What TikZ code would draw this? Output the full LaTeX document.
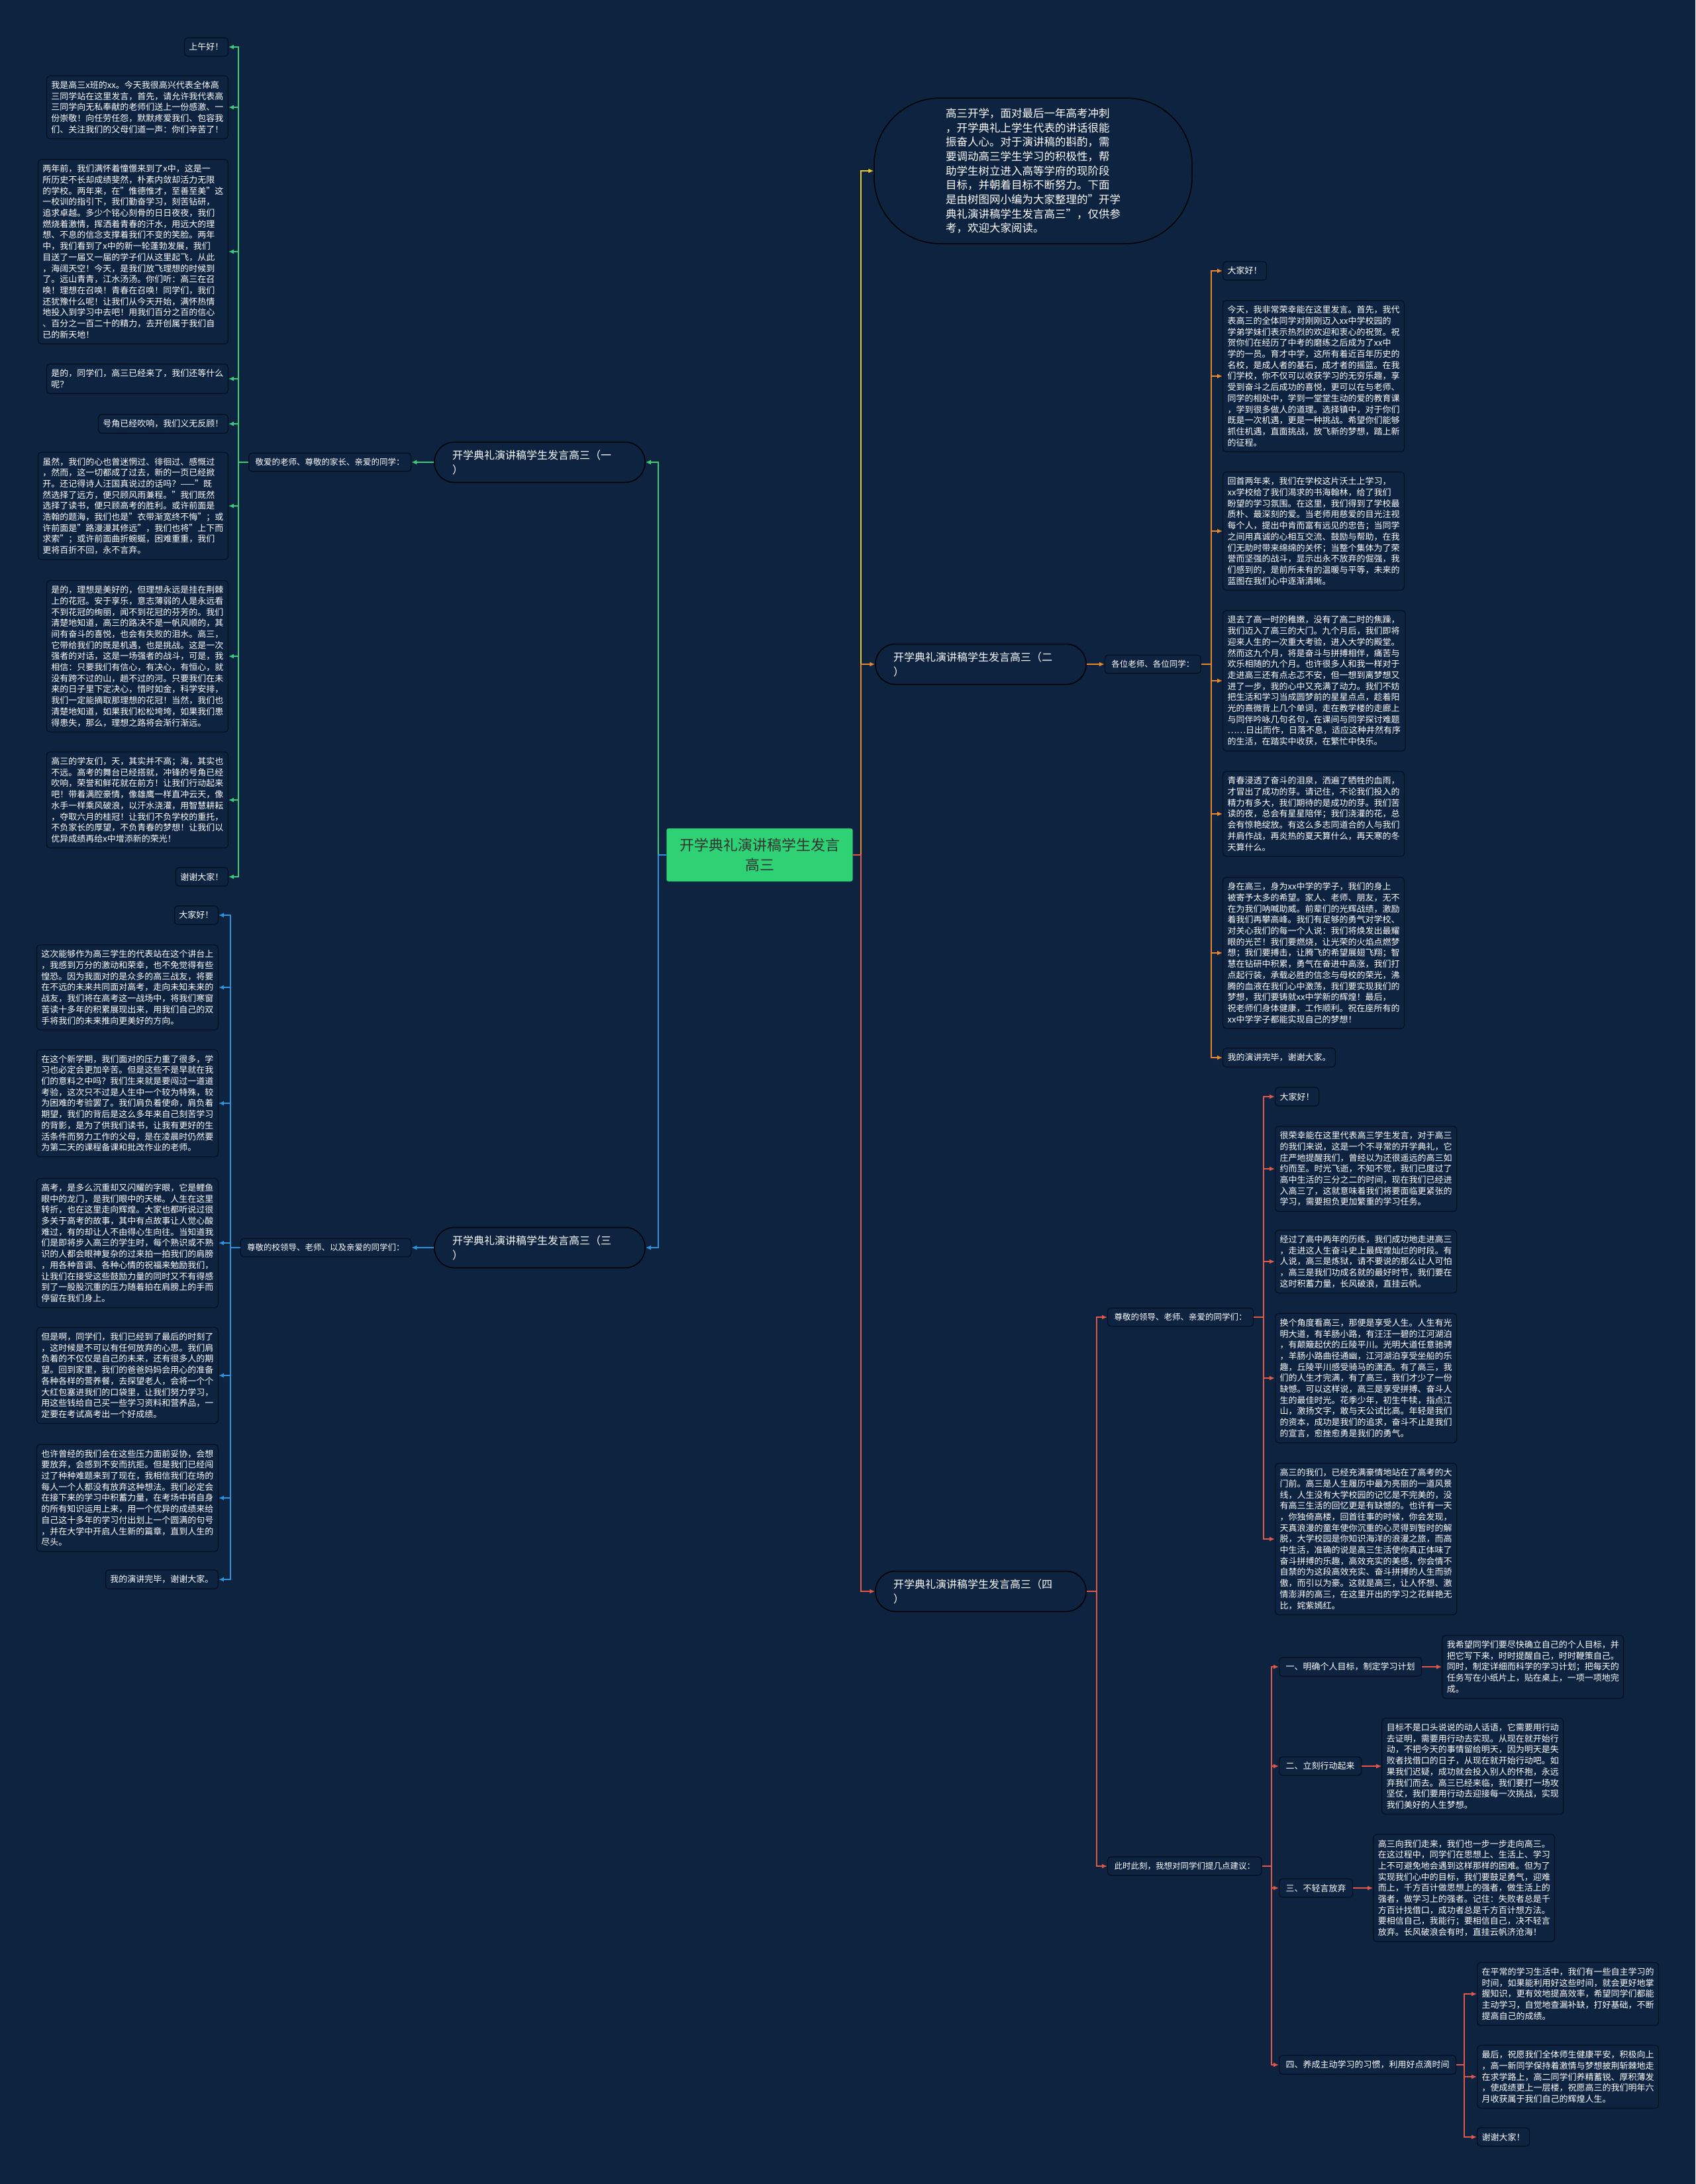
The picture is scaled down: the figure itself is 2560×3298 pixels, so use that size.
\documentclass[tikz,border=0pt]{standalone}
\usepackage{fontspec}
\setmainfont{Noto Sans CJK SC}
\usepackage{tikz}
\usetikzlibrary{positioning, arrows.meta}
\definecolor{bgcol}{RGB}{13,35,63}
\definecolor{boxline}{RGB}{4,14,30}
\definecolor{rootcol}{RGB}{46,210,116}
\definecolor{gcol}{RGB}{58,204,125}
\definecolor{ocol}{RGB}{232,136,44}
\definecolor{ycol}{RGB}{232,200,30}
\definecolor{bcol}{RGB}{44,146,218}
\definecolor{rcol}{RGB}{224,88,74}
\tikzset{
  leaf/.style={draw=boxline, fill=bgcol, rounded corners=5pt, line width=1.2pt,
    text=white, align=left, inner xsep=7pt, inner ysep=8pt,
    font=\fontsize{13}{16.7}\selectfont},
  lbl/.style={leaf, inner xsep=10pt, font=\fontsize{12.5}{15}\selectfont},
  point/.style={leaf, inner xsep=10pt},
  branch/.style={draw=black, fill=bgcol, rounded corners=30pt, line width=1.5pt,
    text=white, align=left, text width=264pt, inner xsep=27pt,
    minimum height=61pt, font=\fontsize{16}{22}\selectfont},
  intro/.style={draw=black, fill=bgcol, rounded corners=100pt, line width=1.5pt,
    text=white, align=left, minimum width=480pt, minimum height=220pt,
    font=\fontsize{16.5}{21.7}\selectfont},
  root/.style={fill=rootcol, draw=rootcol!75!black, rounded corners=3pt,
    minimum width=281pt, minimum height=80pt, align=center, text=black!80,
    font=\fontsize{22}{30}\selectfont},
  conn/.style={line width=2pt, -{Latex[length=8pt,width=7pt]}},
}
\begin{document}
\begin{tikzpicture}[x=1pt,y=-1pt]
\useasboundingbox (0,0) rectangle (2560,3298);
\fill[bgcol] (0,0) rectangle (2560,3298);

\node[root] (main) at (1147,1291) {开学典礼演讲稿学生发言\\高三};
\node[intro] (intro) at (1560,258) {高三开学，面对最后一年高考冲刺\\，开学典礼上学生代表的讲话很能\\振奋人心。对于演讲稿的斟酌，需\\要调动高三学生学习的积极性，帮\\助学生树立进入高等学府的现阶段\\目标，并朝着目标不断努力。下面\\是由树图网小编为大家整理的"开学\\典礼演讲稿学生发言高三"，仅供参\\考，欢迎大家阅读。};
\node[branch] (t1) at (815,698) {开学典礼演讲稿学生发言高三（一\\）};
\node[branch] (t2) at (1481,1003) {开学典礼演讲稿学生发言高三（二\\）};
\node[branch] (t3) at (815,1884) {开学典礼演讲稿学生发言高三（三\\）};
\node[branch] (t4) at (1481,2403) {开学典礼演讲稿学生发言高三（四\\）};

\node[lbl, left=34pt of t1] (h1) {敬爱的老师、尊敬的家长、亲爱的同学：};
\node[lbl, right=27pt of t2] (h2) {各位老师、各位同学：};
\node[lbl, left=34pt of t3] (h3) {尊敬的校领导、老师、以及亲爱的同学们：};
\node[lbl, anchor=west] (h4a) at (1672,1989) {尊敬的领导、老师、亲爱的同学们：};
\node[lbl, anchor=west] (h4b) at (1672,2818) {此时此刻，我想对同学们提几点建议：};

% (一)
\node[leaf, anchor=east] (a1) at (345,71) {上午好！};
\node[leaf, anchor=east] (a2) at (345,162) {我是高三x班的xx。今天我很高兴代表全体高\\三同学站在这里发言，首先，请允许我代表高\\三同学向无私奉献的老师们送上一份感激、一\\份崇敬！向任劳任怨，默默疼爱我们、包容我\\们、关注我们的父母们道一声：你们辛苦了！};
\node[leaf, anchor=east] (a3) at (345,380) {两年前，我们满怀着憧憬来到了x中，这是一\\所历史不长却成绩斐然，朴素内敛却活力无限\\的学校。两年来，在"惟德惟才，至善至美"这\\一校训的指引下，我们勤奋学习，刻苦钻研，\\追求卓越。多少个铭心刻骨的日日夜夜，我们\\燃烧着激情，挥洒着青春的汗水，用远大的理\\想、不息的信念支撑着我们不变的笑脸。两年\\中，我们看到了x中的新一轮蓬勃发展，我们\\目送了一届又一届的学子们从这里起飞，从此\\，海阔天空！今天，是我们放飞理想的时候到\\了。远山青青，江水汤汤。你们听：高三在召\\唤！理想在召唤！青春在召唤！同学们，我们\\还犹豫什么呢！让我们从今天开始，满怀热情\\地投入到学习中去吧！用我们百分之百的信心\\、百分之一百二十的精力，去开创属于我们自\\已的新天地！};
\node[leaf, anchor=east] (a4) at (345,572) {是的，同学们，高三已经来了，我们还等什么\\呢？};
\node[leaf, anchor=east] (a5) at (345,640) {号角已经吹响，我们义无反顾！};
\node[leaf, anchor=east] (a6) at (345,764) {虽然，我们的心也曾迷惘过、徘徊过、感慨过\\，然而，这一切都成了过去，新的一页已经掀\\开。还记得诗人汪国真说过的话吗？——"既\\然选择了远方，便只顾风雨兼程。"我们既然\\选择了读书，便只顾高考的胜利。或许前面是\\浩翰的题海，我们也是"衣带渐宽终不悔"；或\\许前面是"路漫漫其修远"，我们也将"上下而\\求索"；或许前面曲折蜿蜒，困难重重，我们\\更将百折不回，永不言弃。};
\node[leaf, anchor=east] (a7) at (345,991) {是的，理想是美好的，但理想永远是挂在荆棘\\上的花冠。安于享乐，意志薄弱的人是永远看\\不到花冠的绚丽，闻不到花冠的芬芳的。我们\\清楚地知道，高三的路决不是一帆风顺的，其\\间有奋斗的喜悦，也会有失败的泪水。高三，\\它带给我们的既是机遇，也是挑战。这是一次\\强者的对话，这是一场强者的战斗，可是，我\\相信：只要我们有信心，有决心，有恒心，就\\没有跨不过的山，趟不过的河。只要我们在未\\来的日子里下定决心，惜时如金，科学安排，\\我们一定能摘取那理想的花冠！当然，我们也\\清楚地知道，如果我们松松垮垮，如果我们患\\得患失，那么，理想之路将会渐行渐远。};
\node[leaf, anchor=east] (a8) at (345,1208) {高三的学友们，天，其实并不高；海，其实也\\不远。高考的舞台已经搭就，冲锋的号角已经\\吹响，荣誉和鲜花就在前方！让我们行动起来\\吧！带着满腔豪情，像雄鹰一样直冲云天，像\\水手一样乘风破浪，以汗水浇灌，用智慧耕耘\\，夺取六月的桂冠！让我们不负学校的重托，\\不负家长的厚望，不负青春的梦想！让我们以\\优异成绩再给x中增添新的荣光！};
\node[leaf, anchor=east] (a9) at (345,1324) {谢谢大家！};

% (二)
\node[leaf, anchor=west] (b1) at (1846,409) {大家好！};
\node[leaf, anchor=west] (b2) at (1846,568) {今天，我非常荣幸能在这里发言。首先，我代\\表高三的全体同学对刚刚迈入xx中学校园的\\学弟学妹们表示热烈的欢迎和衷心的祝贺。祝\\贺你们在经历了中考的磨练之后成为了xx中\\学的一员。育才中学，这所有着近百年历史的\\名校，是成人者的基石，成才者的摇篮。在我\\们学校，你不仅可以收获学习的无穷乐趣，享\\受到奋斗之后成功的喜悦，更可以在与老师、\\同学的相处中，学到一堂堂生动的爱的教育课\\，学到很多做人的道理。选择镇中，对于你们\\既是一次机遇，更是一种挑战。希望你们能够\\抓住机遇，直面挑战，放飞新的梦想，踏上新\\的征程。};
\node[leaf, anchor=west] (b3) at (1846,802) {回首两年来，我们在学校这片沃土上学习，\\xx学校给了我们渴求的书海翰林，给了我们\\盼望的学习氛围。在这里，我们得到了学校最\\质朴、最深刻的爱。当老师用慈爱的目光注视\\每个人，提出中肯而富有远见的忠告；当同学\\之间用真诚的心相互交流、鼓励与帮助，在我\\们无助时带来绵绵的关怀；当整个集体为了荣\\誉而坚强的战斗，显示出永不放弃的倔强，我\\们感到的，是前所未有的温暖与平等，未来的\\蓝图在我们心中逐渐清晰。};
\node[leaf, anchor=west] (b4) at (1846,1028) {退去了高一时的稚嫩，没有了高二时的焦躁，\\我们迈入了高三的大门。九个月后，我们即将\\迎来人生的一次重大考验，进入大学的殿堂。\\然而这九个月，将是奋斗与拼搏相伴，痛苦与\\欢乐相随的九个月。也许很多人和我一样对于\\走进高三还有点忐忑不安，但一想到离梦想又\\进了一步，我的心中又充满了动力。我们不妨\\把生活和学习当成圆梦前的星星点点，趁着阳\\光的熹微背上几个单词，走在教学楼的走廊上\\与同伴吟咏几句名句，在课间与同学探讨难题\\……日出而作，日落不息，适应这种井然有序\\的生活，在踏实中收获，在繁忙中快乐。};
\node[leaf, anchor=west] (b5) at (1846,1229) {青春浸透了奋斗的泪泉，洒遍了牺牲的血雨，\\才冒出了成功的芽。请记住，不论我们投入的\\精力有多大，我们期待的是成功的芽。我们苦\\读的夜，总会有星星陪伴；我们浇灌的花，总\\会有惊艳绽放。有这么多志同道合的人与我们\\并肩作战，再炎热的夏天算什么，再天寒的冬\\天算什么。};
\node[leaf, anchor=west] (b6) at (1846,1439) {身在高三，身为xx中学的学子，我们的身上\\被寄予太多的希望。家人、老师、朋友，无不\\在为我们呐喊助威。前辈们的光辉战绩，激励\\着我们再攀高峰。我们有足够的勇气对学校、\\对关心我们的每一个人说：我们将焕发出最耀\\眼的光芒！我们要燃烧，让光荣的火焰点燃梦\\想；我们要搏击，让腾飞的希望展翅飞翔；智\\慧在钻研中积累，勇气在奋进中高涨，我们打\\点起行装，承载必胜的信念与母校的荣光，沸\\腾的血液在我们心中激荡，我们要实现我们的\\梦想，我们要铸就xx中学新的辉煌！最后，\\祝老师们身体健康，工作顺利。祝在座所有的\\xx中学学子都能实现自己的梦想！};
\node[leaf, anchor=west] (b7) at (1846,1597) {我的演讲完毕，谢谢大家。};

% (三)
\node[leaf, anchor=east] (c1) at (330,1382) {大家好！};
\node[leaf, anchor=east] (c2) at (330,1491) {这次能够作为高三学生的代表站在这个讲台上\\，我感到万分的激动和荣幸，也不免觉得有些\\惶恐。因为我面对的是众多的高三战友，将要\\在不远的未来共同面对高考，走向未知未来的\\战友，我们将在高考这一战场中，将我们寒窗\\苦读十多年的积累展现出来，用我们自己的双\\手将我们的未来推向更美好的方向。};
\node[leaf, anchor=east] (c3) at (330,1666) {在这个新学期，我们面对的压力重了很多，学\\习也必定会更加辛苦。但是这些不是早就在我\\们的意料之中吗？我们生来就是要闯过一道道\\考验，这次只不过是人生中一个较为特殊，较\\为困难的考验罢了。我们肩负着使命，肩负着\\期望，我们的背后是这么多年来自己刻苦学习\\的背影，是为了供我们读书，让我有更好的生\\活条件而努力工作的父母，是在凌晨时仍然要\\为第二天的课程备课和批改作业的老师。};
\node[leaf, anchor=east] (c4) at (330,1877) {高考，是多么沉重却又闪耀的字眼，它是鲤鱼\\眼中的龙门，是我们眼中的天梯。人生在这里\\转折，也在这里走向辉煌。大家也都听说过很\\多关于高考的故事，其中有点故事让人觉心酸\\难过，有的却让人不由得心生向往。当知道我\\们是即将步入高三的学生时，每个熟识或不熟\\识的人都会眼神复杂的过来拍一拍我们的肩膀\\，用各种音调、各种心情的祝福来勉励我们，\\让我们在接受这些鼓励力量的同时又不有得感\\到了一股股沉重的压力随着拍在肩膀上的手而\\停留在我们身上。};
\node[leaf, anchor=east] (c5) at (330,2077) {但是啊，同学们，我们已经到了最后的时刻了\\，这时候是不可以有任何放弃的心思。我们肩\\负着的不仅仅是自己的未来，还有很多人的期\\望。回到家里，我们的爸爸妈妈会用心的准备\\各种各样的营养餐，去探望老人，会将一个个\\大红包塞进我们的口袋里，让我们努力学习，\\用这些钱给自己买一些学习资料和营养品，一\\定要在考试高考出一个好成绩。};
\node[leaf, anchor=east] (c6) at (330,2262) {也许曾经的我们会在这些压力面前妥协，会想\\要放弃，会感到不安而抗拒。但是我们已经闯\\过了种种难题来到了现在，我相信我们在场的\\每人一个人都没有放弃这种想法。我们必定会\\在接下来的学习中积蓄力量，在考场中将自身\\的所有知识运用上来，用一个优异的成绩来给\\自己这十多年的学习付出划上一个圆满的句号\\，并在大学中开启人生新的篇章，直到人生的\\尽头。};
\node[leaf, anchor=east] (c7) at (330,2385) {我的演讲完毕，谢谢大家。};

% (四)
\node[leaf, anchor=west] (d1) at (1925,1656) {大家好！};
\node[leaf, anchor=west] (d2) at (1925,1765) {很荣幸能在这里代表高三学生发言，对于高三\\的我们来说，这是一个不寻常的开学典礼，它\\庄严地提醒我们，曾经以为还很遥远的高三如\\约而至。时光飞逝，不知不觉，我们已度过了\\高中生活的三分之二的时间，现在我们已经进\\入高三了，这就意味着我们将要面临更紧张的\\学习，需要担负更加繁重的学习任务。};
\node[leaf, anchor=west] (d3) at (1925,1905) {经过了高中两年的历练，我们成功地走进高三\\，走进这人生奋斗史上最辉煌灿烂的时段。有\\人说，高三是炼狱，请不要说的那么让人可怕\\，高三是我们功成名就的最好时节，我们要在\\这时积蓄力量，长风破浪，直挂云帆。};
\node[leaf, anchor=west] (d4) at (1925,2081) {换个角度看高三，那便是享受人生。人生有光\\明大道，有羊肠小路，有汪汪一碧的江河湖泊\\，有颠簸起伏的丘陵平川。光明大道任意驰骋\\，羊肠小路曲径通幽，江河湖泊享受坐船的乐\\趣，丘陵平川感受骑马的潇洒。有了高三，我\\们的人生才完满，有了高三，我们才少了一份\\缺憾。可以这样说，高三是享受拼搏、奋斗人\\生的最佳时光。花季少年，初生牛犊，指点江\\山，激扬文字，敢与天公试比高。年轻是我们\\的资本，成功是我们的追求，奋斗不止是我们\\的宣言，愈挫愈勇是我们的勇气。};
\node[leaf, anchor=west] (d5) at (1925,2324) {高三的我们，已经充满豪情地站在了高考的大\\门前。高三是人生履历中最为亮丽的一道风景\\线，人生没有大学校园的记忆是不完美的，没\\有高三生活的回忆更是有缺憾的。也许有一天\\，你独倚高楼，回首往事的时候，你会发现，\\天真浪漫的童年使你沉重的心灵得到暂时的解\\脱，大学校园是你知识海洋的浪漫之旅，而高\\中生活，准确的说是高三生活使你真正体味了\\奋斗拼搏的乐趣，高效充实的美感，你会情不\\自禁的为这段高效充实、奋斗拼搏的人生而骄\\傲，而引以为豪。这就是高三，让人怀想、激\\情澎湃的高三，在这里开出的学习之花鲜艳无\\比，姹紫嫣红。};

\node[point, anchor=west] (e1) at (1931,2517) {一、明确个人目标，制定学习计划};
\node[point, anchor=west] (e2) at (1931,2667) {二、立刻行动起来};
\node[point, anchor=west] (e3) at (1931,2851) {三、不轻言放弃};
\node[point, anchor=west] (e4) at (1931,3118) {四、养成主动学习的习惯，利用好点滴时间};
\node[leaf, right=30pt of e1] (f1) {我希望同学们要尽快确立自己的个人目标，并\\把它写下来，时时提醒自己，时时鞭策自己。\\同时，制定详细而科学的学习计划；把每天的\\任务写在小纸片上，贴在桌上，一项一项地完\\成。};
\node[leaf, right=30pt of e2] (f2) {目标不是口头说说的动人话语，它需要用行动\\去证明，需要用行动去实现。从现在就开始行\\动，不把今天的事情留给明天，因为明天是失\\败者找借口的日子，从现在就开始行动吧。如\\果我们迟疑，成功就会投入别人的怀抱，永远\\弃我们而去。高三已经来临，我们要打一场攻\\坚仗，我们要用行动去迎接每一次挑战，实现\\我们美好的人生梦想。};
\node[leaf, right=30pt of e3] (f3) {高三向我们走来，我们也一步一步走向高三。\\在这过程中，同学们在思想上、生活上、学习\\上不可避免地会遇到这样那样的困难。但为了\\实现我们心中的目标，我们要鼓足勇气，迎难\\而上，千方百计做思想上的强者，做生活上的\\强者，做学习上的强者。记住：失败者总是千\\方百计找借口，成功者总是千方百计想方法。\\要相信自己，我能行；要相信自己，决不轻言\\放弃。长风破浪会有时，直挂云帆济沧海！};
\node[leaf, anchor=west] (g1) at (2230,3011) {在平常的学习生活中，我们有一些自主学习的\\时间，如果能利用好这些时间，就会更好地掌\\握知识，更有效地提高效率，希望同学们都能\\主动学习，自觉地查漏补缺，打好基础，不断\\提高自己的成绩。};
\node[leaf, anchor=west] (g2) at (2230,3136) {最后，祝愿我们全体师生健康平安，积极向上\\，高一新同学保持着激情与梦想披荆斩棘地走\\在求学路上，高二同学们养精蓄锐、厚积薄发\\，使成绩更上一层楼，祝愿高三的我们明年六\\月收获属于我们自己的辉煌人生。};
\node[leaf, anchor=west] (g3) at (2230,3227) {谢谢大家！};

% connectors
\draw[conn, ycol] (main.east) -- ++(12,0) |- (intro.west);
\draw[conn, ocol] (main.east) -- ++(12,0) |- (t2.west);
\draw[conn, rcol] (main.east) -- ++(12,0) |- (t4.west);
\draw[conn, gcol] (main.west) -- ++(-12,0) |- (t1.east);
\draw[conn, bcol] (main.west) -- ++(-12,0) |- (t3.east);

\draw[conn, gcol] (t1.west) -- (h1.east);
\draw[conn, ocol] (t2.east) -- (h2.west);
\draw[conn, bcol] (t3.west) -- (h3.east);
\draw[conn, rcol] (t4.east) -- ++(15,0) |- (h4a.west);
\draw[conn, rcol] (t4.east) -- ++(15,0) |- (h4b.west);

\foreach \i in {1,...,9} \draw[conn, gcol] (h1.west) -- ++(-15,0) |- (a\i.east);
\foreach \i in {1,...,7} \draw[conn, ocol] (h2.east) -- ++(15,0) |- (b\i.west);
\foreach \i in {1,...,7} \draw[conn, bcol] (h3.west) -- ++(-15,0) |- (c\i.east);
\foreach \i in {1,...,5} \draw[conn, rcol] (h4a.east) -- ++(15,0) |- (d\i.west);
\foreach \i in {1,...,4} \draw[conn, rcol] (h4b.east) -- ++(14,0) |- (e\i.west);
\foreach \i in {1,...,3} \draw[conn, rcol] (e\i.east) -- (f\i.west);
\foreach \i in {1,...,3} \draw[conn, rcol] (e4.east) -- ++(12,0) |- (g\i.west);
\end{tikzpicture}
\end{document}
